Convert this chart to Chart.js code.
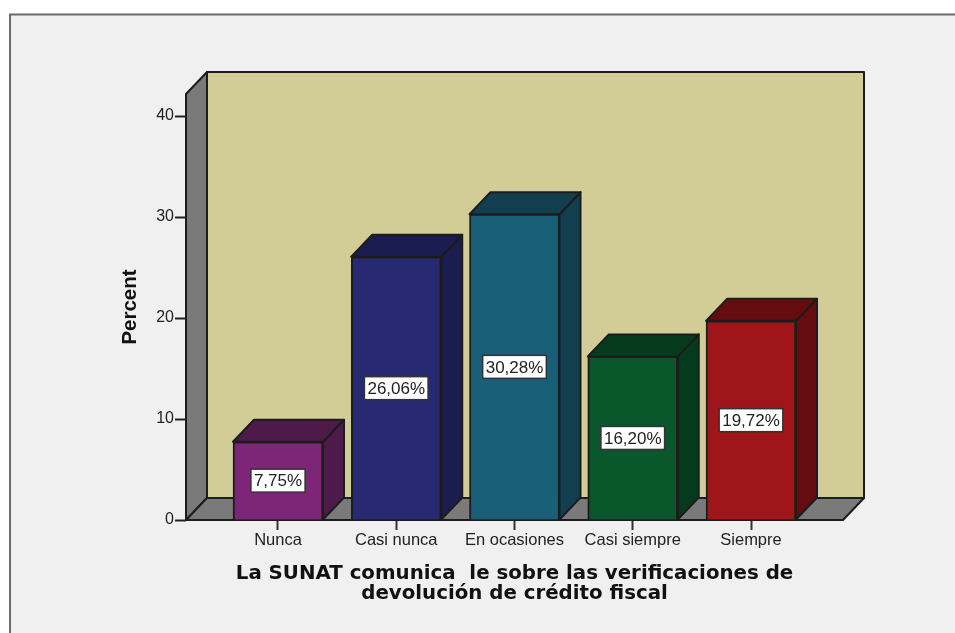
<!DOCTYPE html>
<html>
<head>
<meta charset="utf-8">
<style>html,body{margin:0;padding:0;background:#fff;overflow:hidden}canvas{display:block}</style>
<script src="https://cdn.jsdelivr.net/npm/chart.js@4"></script>
</head>
<body>
<canvas id="c" width="955" height="633"></canvas>
<script>
const categories = ['Nunca', 'Casi nunca', 'En ocasiones', 'Casi siempre', 'Siempre'];
const percents = [7.75, 26.06, 30.28, 16.20, 19.72];
const frontColors = ['#7d2678', '#272a73', '#1a5f78', '#0a572c', '#a01519'];
const sideColors = ['#4d1a49', '#1b1c4f', '#123f50', '#063a1d', '#640c0f'];
const yTicks = [0, 10, 20, 30, 40];
const xTitle = ['La SUNAT comunica  le sobre las verificaciones de', 'devolución de crédito fiscal'];
const yTitle = 'Percent';

const DX = 21, DY = 22, EDGE = '#1c1c1c';

function poly(ctx, pts, fill, lw) {
  ctx.beginPath();
  pts.forEach((p, i) => i ? ctx.lineTo(p[0], p[1]) : ctx.moveTo(p[0], p[1]));
  ctx.closePath();
  ctx.fillStyle = fill;
  ctx.fill();
  ctx.lineWidth = lw || 2;
  ctx.strokeStyle = EDGE;
  ctx.lineJoin = 'round';
  ctx.stroke();
}

const frame = {
  id: 'frame',
  beforeDraw(chart) {
    const ctx = chart.ctx;
    ctx.save();
    ctx.fillStyle = '#ffffff';
    ctx.fillRect(0, 0, chart.width, chart.height);
    ctx.fillStyle = '#f0f0f0';
    ctx.fillRect(10, 15, chart.width, chart.height);
    ctx.strokeStyle = '#6c6c6c';
    ctx.lineWidth = 2;
    ctx.beginPath();
    ctx.moveTo(10, chart.height + 2);
    ctx.lineTo(10, 14.5);
    ctx.lineTo(chart.width + 2, 14.5);
    ctx.stroke();
    ctx.restore();
  }
};

const box3d = {
  id: 'box3d',
  beforeDatasetsDraw(chart) {
    const ctx = chart.ctx, a = chart.chartArea;
    ctx.save();
    poly(ctx, [[a.left + DX, a.top - DY], [a.right + DX, a.top - DY], [a.right + DX, a.bottom - DY], [a.left + DX, a.bottom - DY]], '#d2cd97');
    poly(ctx, [[a.left, a.top], [a.left + DX, a.top - DY], [a.left + DX, a.bottom - DY], [a.left, a.bottom]], '#7a7a7a');
    poly(ctx, [[a.left, a.bottom], [a.left + DX, a.bottom - DY], [a.right + DX, a.bottom - DY], [a.right, a.bottom]], '#7a7a7a');
    chart.getDatasetMeta(0).data.forEach((bar, i) => {
      const l = bar.x - bar.width / 2, r = bar.x + bar.width / 2;
      poly(ctx, [[r, bar.y], [r + DX, bar.y - DY], [r + DX, bar.base - DY], [r, bar.base]], sideColors[i]);
      poly(ctx, [[l, bar.y], [l + DX, bar.y - DY], [r + DX, bar.y - DY], [r, bar.y]], sideColors[i]);
    });
    ctx.restore();
  },
  afterDatasetsDraw(chart) {
    const ctx = chart.ctx;
    ctx.save();
    ctx.font = '17px "Liberation Sans"';
    ctx.textAlign = 'center';
    ctx.textBaseline = 'middle';
    chart.getDatasetMeta(0).data.forEach((bar, i) => {
      const text = percents[i].toFixed(2).replace('.', ',') + '%';
      const w = ctx.measureText(text).width + 6, h = 23;
      const cy = (bar.y + bar.base) / 2;
      ctx.fillStyle = '#ffffff';
      ctx.strokeStyle = '#333333';
      ctx.lineWidth = 1.5;
      ctx.fillRect(bar.x - w / 2, cy - h / 2, w, h);
      ctx.strokeRect(bar.x - w / 2, cy - h / 2, w, h);
      ctx.fillStyle = '#222222';
      ctx.fillText(text, bar.x, cy + 1);
    });
    ctx.restore();
  }
};

new Chart(document.getElementById('c'), {
  type: 'bar',
  data: {
    datasets: [{
      data: percents.map((v, i) => ({ x: i + 1, y: v })),
      backgroundColor: frontColors,
      borderColor: EDGE,
      borderWidth: 2,
      barThickness: 90
    }]
  },
  options: {
    responsive: false,
    animation: false,
    layout: { padding: { left: 114, right: 112, top: 94, bottom: 29 } },
    plugins: { legend: { display: false }, tooltip: { enabled: false } },
    scales: {
      x: {
        type: 'linear',
        offset: false,
        min: 0.222,
        max: 5.778,
        afterFit(s) { s.height = 84; },
        grid: { offset: false, drawOnChartArea: false, drawTicks: true, tickLength: 10, tickColor: '#333', tickWidth: 2 },
        border: { display: false },
        ticks: {
          stepSize: 1,
          includeBounds: false,
          autoSkip: false,
          maxRotation: 0,
          padding: 1,
          color: '#222',
          font: { family: '"Liberation Sans"', size: 16.5 },
          callback: v => categories[v - 1]
        },
        title: {
          display: true,
          text: xTitle,
          color: '#111',
          font: { family: '"DejaVu Sans"', size: 19.8, weight: 'bold', lineHeight: 1.01 },
          padding: { top: 0, bottom: 0 }
        }
      },
      y: {
        min: 0,
        max: 42.18,
        afterFit(s) { s.width = 72; },
        afterBuildTicks(s) { s.ticks = yTicks.map(v => ({ value: v })); },
        grid: { drawOnChartArea: false, drawTicks: true, tickLength: 11, tickColor: '#222', tickWidth: 2 },
        border: { display: false },
        ticks: {
          autoSkip: false,
          padding: 1,
          color: '#222',
          font: { family: '"Liberation Sans"', size: 16 }
        },
        title: {
          display: true,
          text: yTitle,
          color: '#111',
          font: { family: '"Liberation Sans"', size: 20.5, weight: 'bold', lineHeight: 1.2 },
          padding: { top: 4, bottom: 4 }
        }
      }
    }
  },
  plugins: [frame, box3d]
});
</script>
</body>
</html>
